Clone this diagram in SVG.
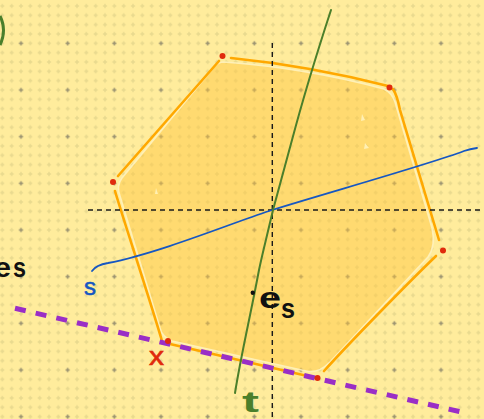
<svg xmlns="http://www.w3.org/2000/svg" width="484" height="419" viewBox="0 0 484 419">
<defs>
<pattern id="minor" patternUnits="userSpaceOnUse" x="-2.333" y="1.333" width="9.3333" height="9.3333">
<path d="M2.667,4.667h4M4.667,2.667v4" stroke="#E8D98E" stroke-width="1.4" fill="none"/>
</pattern>
<pattern id="major" patternUnits="userSpaceOnUse" x="-2.333" y="20" width="46.667" height="46.667">
<path d="M21.333,23.333h4M23.333,21.333v4" stroke="#9C9472" stroke-width="1.6" fill="none"/>
</pattern>
<style>
.edge{fill:none;stroke:#FFA800;stroke-width:2.6;stroke-linecap:round}
.axis{fill:none;stroke:#1a1a1a;stroke-width:1.4;stroke-dasharray:5 4}
.vtx{fill:#E02A0C}
.hand{font-family:"Liberation Sans",Arial,sans-serif}
</style>
</defs>
<rect width="484" height="419" fill="#FFEC9C"/>
<rect width="484" height="419" fill="url(#minor)"/>
<rect width="484" height="419" fill="url(#major)"/>

<g id="region">
<path d="M224,62 Q306,68 384,89 Q392,93 395,102 L432,228 Q436,246 428,257 L330,362 Q318,374 306,371 L172,341 Q162,337 160,328 L120,196 Q116,186 122,178 L214,67 Q218,62 224,62 Z" fill="#FFC43A" fill-opacity="0.44" stroke="#FFF2BC" stroke-width="1.6" stroke-opacity="0.9"/>
<path d="M362,114 l3,6 l-4,1 z M365,143 l4,5 l-5,1 z M156,188 l2,6 l-3,0 z" fill="#FFF0B4"/>
</g>

<g id="edges">
<path class="edge" d="M118,176 L219,61"/>
<path class="edge" d="M231,58 Q310,66 388,86"/>
<path class="edge" d="M393,89 Q397,95 400,110 L439,240"/>
<path class="edge" d="M436,256 C410,281 352,340 324,371"/>
<path class="edge" d="M170,344 L316,378"/>
<path class="edge" d="M115,191 C121,212 150,300 162,341"/>
</g>

<g id="axes">
<path class="axis" d="M88,210 H480"/>
<path class="axis" d="M272.3,43 V419"/>
</g>

<g id="line-s">
<path d="M92,271 Q96,265 108,263 C160,253 240,220 272,210 C330,192 430,164 464,151 Q470,149 477,148" fill="none" stroke="#1657C2" stroke-width="1.8" stroke-linecap="round"/>
</g>

<g id="line-t">
<path d="M331,10 C312,68 300,110 292,140 L273,210 C266,240 262,255 259,270 C250,318 241,355 235,393" fill="none" stroke="#4B7F2B" stroke-width="2" stroke-linecap="round"/>
<path d="M0,16 Q7,30 0,45" fill="none" stroke="#4B7F2B" stroke-width="3"/>
</g>

<g id="line-purple">
<path d="M15,308.3 L460,411.7" fill="none" stroke="#9A2EC6" stroke-width="5" stroke-dasharray="11 10.2"/>
</g>

<g id="vertices">
<circle class="vtx" cx="222.5" cy="56" r="3"/>
<circle class="vtx" cx="389.5" cy="87.5" r="3"/>
<circle class="vtx" cx="443" cy="250.5" r="3"/>
<circle class="vtx" cx="317.5" cy="378" r="3"/>
<circle class="vtx" cx="168" cy="341" r="3"/>
<circle class="vtx" cx="113" cy="182" r="3"/>
</g>

<g id="labels">
<circle cx="252.8" cy="292.8" r="2.2" fill="#111"/>
<text class="hand" x="259" y="308" font-size="29" font-weight="bold" fill="#111" textLength="22" lengthAdjust="spacingAndGlyphs">e</text>
<text class="hand" x="281" y="318" font-size="28" font-weight="bold" fill="#111" textLength="14" lengthAdjust="spacingAndGlyphs">s</text>
<text class="hand" x="-6" y="277" font-size="28" font-weight="bold" fill="#111" textLength="17" lengthAdjust="spacingAndGlyphs">e</text>
<text class="hand" x="13" y="277" font-size="28" font-weight="bold" fill="#111" textLength="13" lengthAdjust="spacingAndGlyphs">s</text>
<text class="hand" x="84" y="295" font-size="24" fill="#1657C2" stroke="#1657C2" stroke-width="0.6" textLength="12" lengthAdjust="spacingAndGlyphs">s</text>
<text class="hand" x="242" y="412" font-size="29" font-weight="bold" fill="#4B7F2B" textLength="17" lengthAdjust="spacingAndGlyphs">t</text>
<text class="hand" x="149" y="365" font-size="26" fill="#E02A0C" stroke="#E02A0C" stroke-width="0.6" textLength="15" lengthAdjust="spacingAndGlyphs">x</text>
</g>
</svg>
